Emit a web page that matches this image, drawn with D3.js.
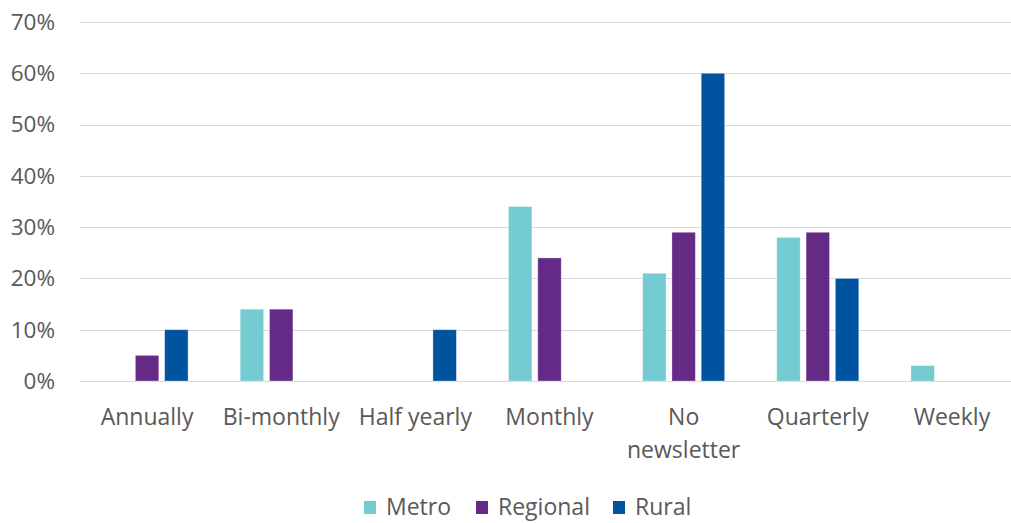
<!DOCTYPE html>
<html><head><meta charset="utf-8">
<script src="https://cdn.jsdelivr.net/npm/d3@7"></script>
<style>body{margin:0;background:#fff;} text{font-family:"Open Sans",sans-serif;fill:#595959;}</style>
</head><body>
<svg id="c" width="1011" height="523"></svg>
<script>
const categories = ["Annually","Bi-monthly","Half yearly","Monthly","No\nnewsletter","Quarterly","Weekly"];
const seriesNames = ["Metro","Regional","Rural"];
const metro    = [0, 14, 0, 34, 21, 28, 3];
const regional = [5, 14, 0, 24, 29, 29, 0];
const rural    = [10, 0, 10, 0, 60, 20, 0];
const yTicks = [0,10,20,30,40,50,60,70];
const colors = ["#74CBD2","#652A85","#00549F"];

const svg = d3.select("#c");
const x = d3.scaleBand().domain(categories).range([80, 1019]).paddingInner(0).paddingOuter(0);
const y = d3.scaleLinear().domain([0,70]).range([381, 22]);
const groupW = 82;
const sub = d3.scaleBand().domain(seriesNames).range([0, groupW]).paddingInner(0.2);
const groupOffset = (x.bandwidth() - groupW) / 2;

// gridlines
svg.append("g").selectAll("line").data(yTicks).join("line")
  .attr("x1", 80).attr("x2", 1011)
  .attr("y1", d => Math.round(y(d)) + 0.5).attr("y2", d => Math.round(y(d)) + 0.5)
  .attr("stroke", "#d9d9d9").attr("stroke-width", 1);

// y labels
svg.append("g").selectAll("text").data(yTicks).join("text")
  .attr("x", 55).attr("y", d => y(d)).attr("dy", "0.35em")
  .attr("text-anchor", "end").attr("font-size", 22.5)
  .text(d => d + "%");

const data = [metro, regional, rural];
seriesNames.forEach((s, i) => {
  svg.append("g").selectAll("rect").data(categories.map((c, j) => ({c, v: data[i][j]})).filter(d => d.v > 0))
    .join("rect")
    .attr("x", d => x(d.c) + groupOffset + sub(s))
    .attr("width", sub.bandwidth())
    .attr("y", d => y(d.v))
    .attr("height", d => y(0) - y(d.v))
    .attr("fill", colors[i])
    .attr("stroke", "#ffffff").attr("stroke-opacity", 0.4).attr("stroke-width", 0.8);
});

// x labels
const xl = svg.append("g").selectAll("text").data(categories).join("text")
  .attr("text-anchor", "middle").attr("font-size", 23)
  .attr("x", d => x(d) + x.bandwidth()/2).attr("y", 425);
xl.each(function(d){
  const lines = d.split("\n");
  d3.select(this).selectAll("tspan").data(lines).join("tspan")
    .attr("x", x(d) + x.bandwidth()/2)
    .attr("dy", (l, k) => k === 0 ? 0 : 33)
    .text(l => l);
});

// legend
const legX = [364, 476, 613];
const lg = svg.append("g");
seriesNames.forEach((s, i) => {
  lg.append("rect").attr("x", legX[i]).attr("y", 501).attr("width", 12).attr("height", 13).attr("fill", colors[i]);
  lg.append("text").attr("x", legX[i] + 22).attr("y", 507).attr("dy", "0.35em").attr("font-size", 23).text(s);
});
</script>
</body></html>
